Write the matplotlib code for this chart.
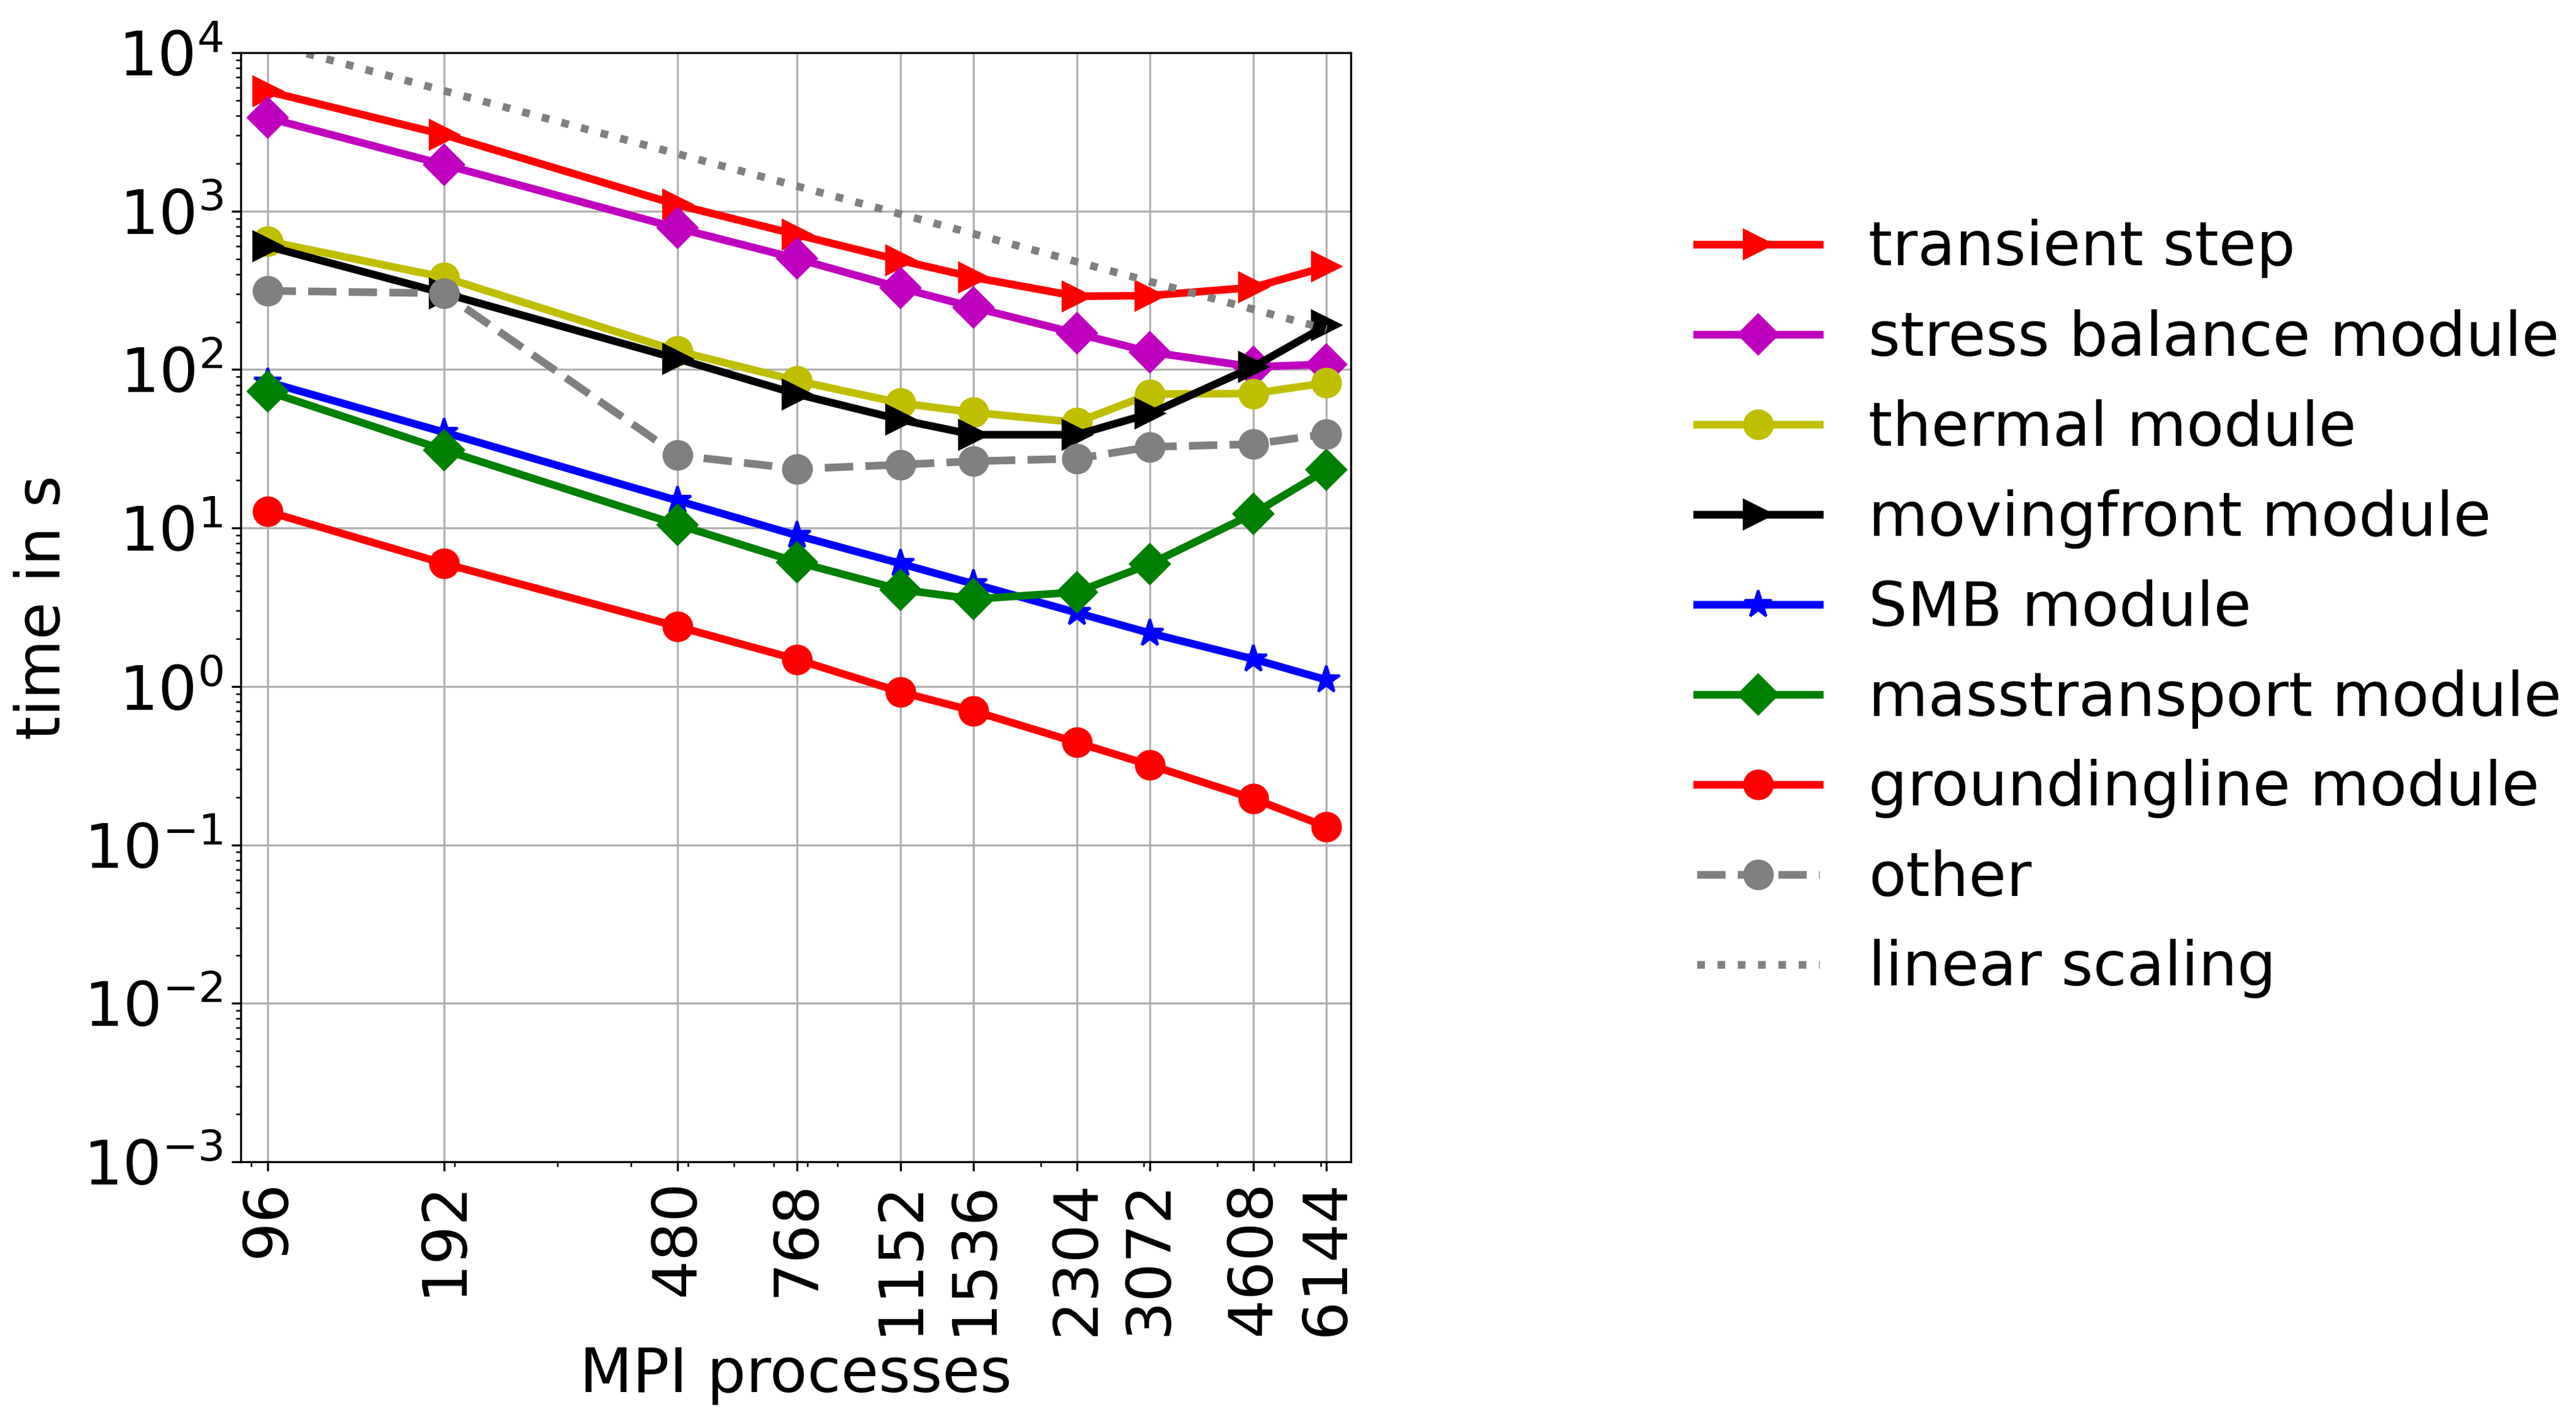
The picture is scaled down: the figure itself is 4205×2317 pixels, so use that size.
import matplotlib
matplotlib.use("Agg")
import matplotlib.pyplot as plt
from matplotlib.ticker import NullFormatter

procs = [96, 192, 480, 768, 1152, 1536, 2304, 3072, 4608, 6144]
proc_labels = ["96", "192", "480", "768", "1152", "1536", "2304", "3072", "4608", "6144"]

transient = [5700, 3035, 1096, 710, 489, 382, 290, 293, 330, 446]
stress = [3880, 1965, 782, 501, 328, 247, 169, 129, 104, 108]
thermal = [647, 382, 131, 85, 61.5, 53.6, 46.4, 70, 70.6, 82.5]
movingfront = [600, 303, 117, 70, 48.3, 38.8, 38.8, 52.7, 104, 190]
smb = [83.6, 40.2, 14.9, 8.98, 5.97, 4.44, 2.92, 2.17, 1.49, 1.10]
masstransport = [72.8, 31.1, 10.5, 6.09, 4.09, 3.56, 3.94, 5.92, 12.3, 23.3]
groundingline = [12.7, 5.97, 2.39, 1.48, 0.924, 0.70, 0.443, 0.319, 0.196, 0.13]
other = [314, 303, 28.8, 23.6, 25.1, 26.4, 27.4, 32.5, 33.8, 39.2]
linear = [11500, 5750, 2300, 1437, 958, 719, 479, 359, 240, 180]

plt.rcParams["font.size"] = 24
plt.rcParams["font.family"] = ["DejaVu Sans"]

fig = plt.figure(figsize=(4205 / 300, 2317 / 300), dpi=300)
ax = fig.add_axes([393 / 4205, 1 - 1897 / 2317, (2205 - 393) / 4205, (1897 - 86) / 2317])

ms = 11
lw = 3
ax.plot(procs, transient, "r>-", lw=lw, ms=ms, label="transient step")
ax.plot(procs, stress, "mD-", lw=lw, ms=ms, label="stress balance module")
ax.plot(procs, thermal, "yo-", lw=lw, ms=ms, label="thermal module")
ax.plot(procs, movingfront, "k>-", lw=lw, ms=ms, label="movingfront module")
ax.plot(procs, smb, "b*-", lw=lw, ms=ms, label="SMB module")
ax.plot(procs, masstransport, "gD-", lw=lw, ms=ms, label="masstransport module")
ax.plot(procs, groundingline, "ro-", lw=lw, ms=ms, label="groundingline module")
ax.plot(procs, other, "o--", color="gray", lw=lw, ms=ms, label="other")
ax.plot(procs, linear, ":", color="gray", lw=lw, label="linear scaling")

ax.set_xscale("log")
ax.set_yscale("log")
ax.set_xlim(0.9 * procs[0], 1.1 * procs[-1])
ax.set_ylim(1e-3, 1e4)
ax.set_xticks(procs)
ax.set_xticklabels(proc_labels, rotation=90)
ax.xaxis.set_minor_formatter(NullFormatter())
ax.grid(True, which="major")
ax.set_xlabel("MPI processes")
ax.set_ylabel("time in s")

fig.legend(loc="center left", bbox_to_anchor=(2730 / 4205, 1 - 994 / 2317),
           bbox_transform=fig.transFigure, borderaxespad=0, frameon=False)

fig.savefig("out.png", dpi=300)
